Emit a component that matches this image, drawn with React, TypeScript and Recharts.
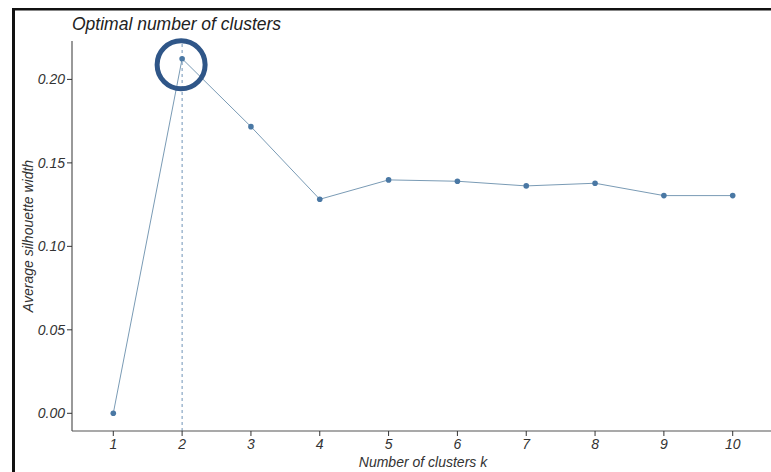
import { LineChart, Line, XAxis, YAxis, ReferenceLine, ReferenceDot } from "recharts";

const clusters = [1, 2, 3, 4, 5, 6, 7, 8, 9, 10];
const silhouette = [0, 0.2124, 0.1717, 0.1282, 0.1398, 0.139, 0.1362, 0.1378, 0.1304, 0.1304];
const yTicks = [0, 0.05, 0.1, 0.15, 0.2];
const optimalK = 2;

const data = clusters.map((k, i) => ({ k, width: silhouette[i] }));

const font = "'Liberation Sans', Arial, sans-serif";
const tickStyle = { fontSize: 14, fontStyle: "italic", fill: "#333", fontFamily: font };

export default function App() {
  const best = silhouette[clusters.indexOf(optimalK)];

  return (
    <div
      style={{
        position: "absolute",
        left: 0,
        top: 0,
        width: 771,
        height: 472,
        overflow: "hidden",
        background: "#fff",
      }}
    >
      <LineChart
        width={775}
        height={472}
        data={data}
        margin={{ top: 41, right: 1, left: 0, bottom: 0 }}
      >
        <XAxis
          dataKey="k"
          type="number"
          domain={[0.4, 10.6]}
          ticks={clusters}
          allowDataOverflow
          height={41}
          tickSize={5}
          tickMargin={3}
          tick={tickStyle}
          axisLine={{ stroke: "#555", strokeWidth: 1.2 }}
          tickLine={{ stroke: "#333" }}
          label={{
            content: (p: any) => (
              <text
                x={423}
                y={p.viewBox.y + 36}
                textAnchor="middle"
                style={{ fontSize: 14, fontStyle: "italic", fill: "#333", fontFamily: font }}
              >
                Number of clusters k
              </text>
            ),
          }}
        />
        <YAxis
          type="number"
          domain={[-0.0106, 0.223]}
          ticks={yTicks}
          allowDataOverflow
          width={72}
          tickSize={5}
          tickMargin={2}
          tick={tickStyle}
          tickFormatter={(v: number) => v.toFixed(2)}
          axisLine={{ stroke: "#555", strokeWidth: 1.2 }}
          tickLine={{ stroke: "#333" }}
          label={{
            content: (p: any) => {
              const cx = 28;
              const cy = p.viewBox.y + p.viewBox.height / 2;
              return (
                <text
                  x={cx}
                  y={cy}
                  transform={`rotate(-90 ${cx} ${cy})`}
                  textAnchor="middle"
                  dominantBaseline="central"
                  style={{ fontSize: 14, fontStyle: "italic", fill: "#333", fontFamily: font }}
                >
                  Average silhouette width
                </text>
              );
            },
          }}
        />
        <ReferenceLine x={optimalK} stroke="#6f93b8" strokeDasharray="3 3" strokeWidth={1} />
        <Line
          dataKey="width"
          stroke="#7a9bb5"
          strokeWidth={1}
          dot={{ r: 2.8, fill: "#4a78a4", stroke: "#4a78a4", strokeWidth: 0 }}
          isAnimationActive={false}
        />
        <ReferenceDot
          x={optimalK}
          y={best}
          shape={(p: any) => (
            <circle cx={p.cx - 1} cy={p.cy + 6} r={24} fill="none" stroke="#2f5688" strokeWidth={5} />
          )}
        />
      </LineChart>
      <svg
        width={771}
        height={472}
        style={{ position: "absolute", left: 0, top: 0, pointerEvents: "none" }}
      >
        <rect x={12} y={8} width={780} height={2.5} fill="#111" />
        <rect x={12} y={8} width={3} height={480} fill="#111" />
        <text
          x={72}
          y={30}
          style={{ fontSize: 17.5, fontStyle: "italic", fill: "#222", fontFamily: font }}
        >
          Optimal number of clusters
        </text>
      </svg>
    </div>
  );
}
